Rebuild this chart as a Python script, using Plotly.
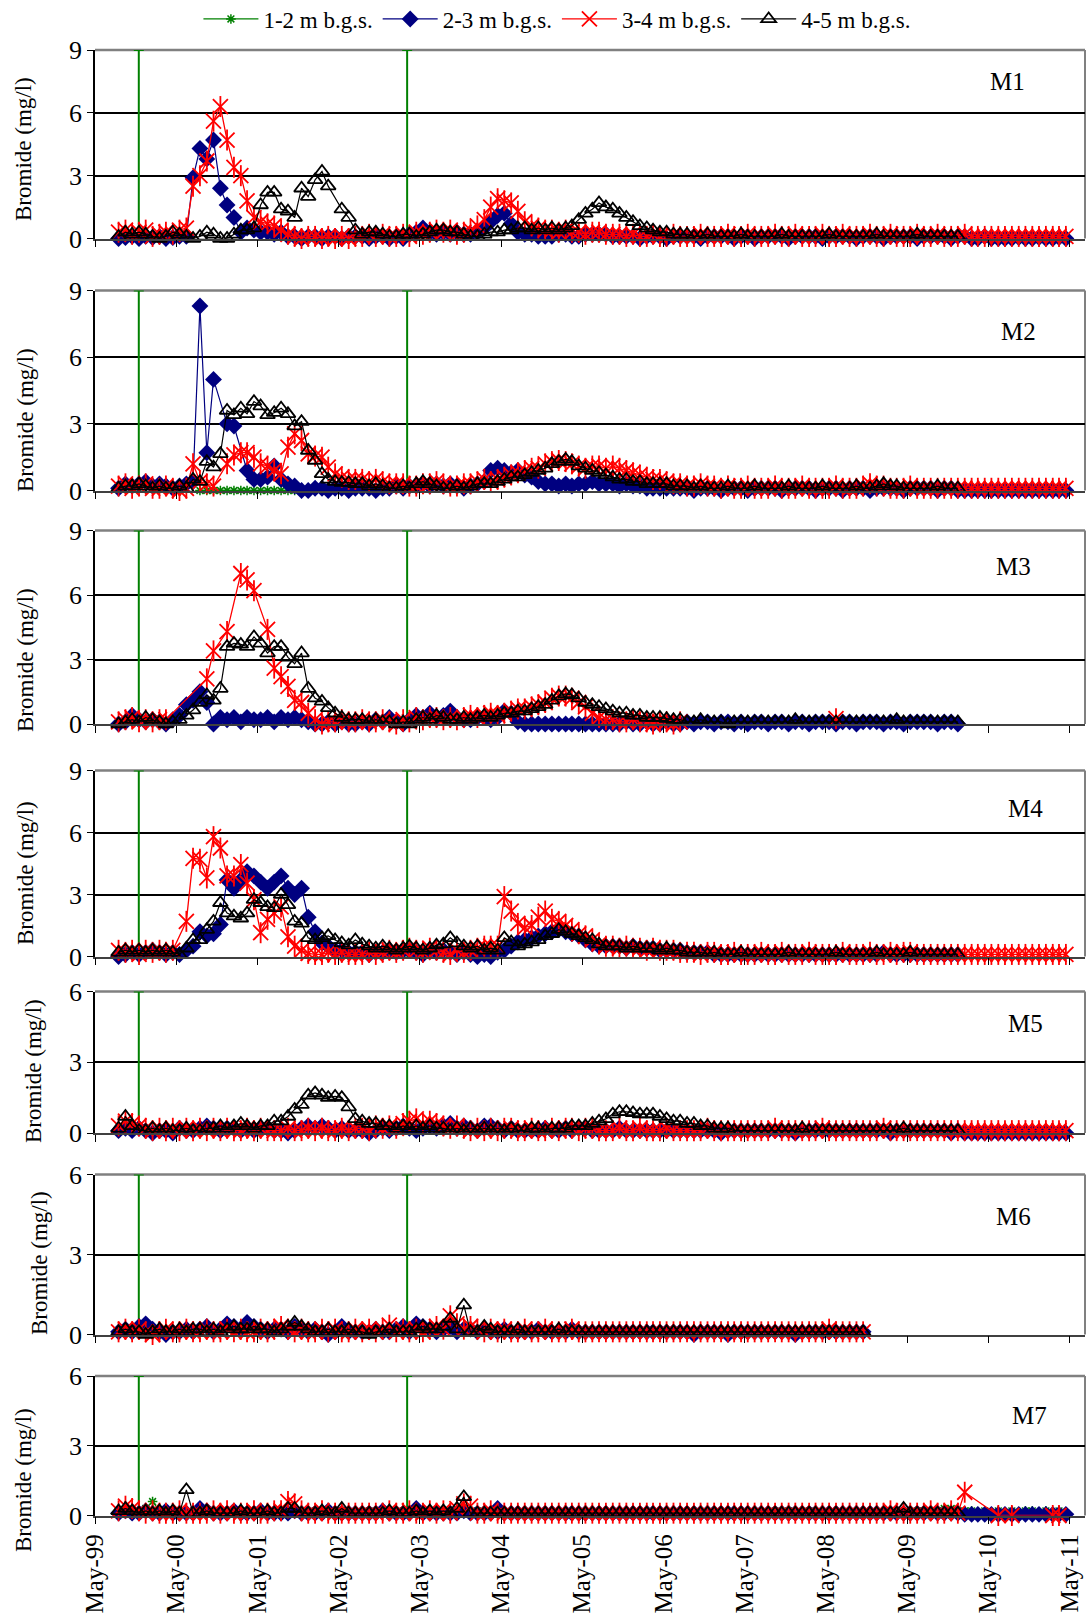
import pandas as pd
import plotly.graph_objects as go

W, H = 1092, 1620
FONT = "Liberation Serif"

# ---------------- data (monthly samples, first sample Aug-1999) ----------------
SERIES_START = "1999-08-01"
APPLICATION_DATES = ["1999-11-14", "2003-03-05"]
LEGEND_NAMES = ["1-2 m b.g.s.", "2-3 m b.g.s.", "3-4 m b.g.s.", "4-5 m b.g.s."]
PANEL_NAMES = ["M1", "M2", "M3", "M4", "M5", "M6", "M7"]
PANEL_YMAX = [9, 9, 9, 9, 6, 6, 6]

M1_NAVY = [
    0.0, 0.05, 0.1, 0.0, 0.1, 0.05, 0.1, 0.0, 0.05, 0.1, 0.1, 2.9,
    4.3, 3.8, 4.7, 2.4, 1.6, 1.0, 0.3, 0.5, 0.4, 0.3, 0.3, 0.2,
    0.3, 0.1, 0.1, 0.0, 0.1, 0.1, 0.0, 0.1, 0.1, 0.0, 0.1, 0.1,
    0.1, 0.0, 0.1, 0.1, 0.0, 0.1, 0.0, 0.2, 0.3, 0.5, 0.3, 0.2,
    0.3, 0.2, 0.3, 0.2, 0.2, 0.3, 0.5, 0.8, 1.1, 1.2, 0.7, 0.3,
    0.2, 0.2, 0.1, 0.1, 0.1, 0.2, 0.2, 0.1, 0.1, 0.2, 0.2, 0.2,
    0.2, 0.1, 0.1, 0.1, 0.1, 0.0, 0.1, 0.1, 0.1, 0.0, 0.1, 0.1,
    0.1, 0.1, 0.0, 0.1, 0.1, 0.1, 0.1, 0.0, 0.1, 0.1, 0.0, 0.1,
    0.1, 0.1, 0.1, 0.0, 0.1, 0.1, 0.1, 0.1, 0.0, 0.1, 0.1, 0.1,
    0.1, 0.0, 0.1, 0.1, 0.1, 0.0, 0.1, 0.1, 0.1, 0.1, 0.0, 0.1,
    0.1, 0.1, 0.1, 0.0, 0.1, 0.1, 0.0, 0.0, 0.1, 0.0, 0.0, 0.0,
    0.0, 0.05, 0.0, 0.0, 0.05, 0.0, 0.0, 0.05, 0.0,
]
M1_RED = [
    0.3, 0.4, 0.2, 0.3, 0.4, 0.1, 0.2, 0.3, 0.2, 0.4, 0.5, 2.5,
    3.0, 3.7, 5.6, 6.3, 4.7, 3.4, 3.0, 1.8, 1.0, 0.8, 0.7, 0.6,
    0.4, 0.2, 0.1, 0.0, 0.1, 0.1, 0.0, 0.1, 0.0, 0.1, 0.0, 0.1,
    0.1, 0.2, 0.1, 0.2, 0.1, 0.1, 0.2, 0.1, 0.3, 0.2, 0.3, 0.4,
    0.3, 0.4, 0.2, 0.3, 0.4, 0.6, 0.9, 1.5, 1.9, 1.8, 1.7, 1.3,
    0.8, 0.6, 0.5, 0.4, 0.4, 0.3, 0.4, 0.3, 0.3, 0.2, 0.3, 0.3,
    0.2, 0.2, 0.2, 0.1, 0.2, 0.1, 0.1, 0.2, 0.1, 0.1, 0.2, 0.1,
    0.1, 0.1, 0.2, 0.1, 0.1, 0.1, 0.2, 0.1, 0.1, 0.2, 0.1, 0.1,
    0.1, 0.2, 0.1, 0.1, 0.2, 0.1, 0.1, 0.1, 0.2, 0.1, 0.1, 0.2,
    0.1, 0.1, 0.1, 0.2, 0.1, 0.1, 0.2, 0.1, 0.1, 0.1, 0.2, 0.1,
    0.1, 0.2, 0.1, 0.1, 0.1, 0.2, 0.1, 0.1, 0.1, 0.1, 0.1, 0.1,
    0.1, 0.1, 0.1, 0.1, 0.1, 0.1, 0.1, 0.1, 0.1,
]
M1_BLACK = [
    0.1, 0.3, 0.2, 0.3, 0.2, 0.1, 0.0, 0.1, 0.3, 0.2, 0.1, 0.0,
    0.1, 0.3, 0.2, 0.0, 0.0, 0.2, 0.4, 0.4, 0.5, 1.6, 2.2, 2.2,
    1.4, 1.3, 1.0, 2.4, 2.0, 2.8, 3.2, 2.5, None, 1.4, 1.0, 0.4,
    0.2, 0.3, 0.3, 0.2, 0.1, 0.1, 0.2, 0.2, 0.1, 0.2, 0.3, 0.4,
    0.4, 0.3, 0.3, 0.2, 0.1, 0.1, 0.2, 0.3, 0.3, 0.4, 0.4, 0.5,
    0.5, 0.4, 0.5, 0.4, 0.5, 0.4, 0.5, 0.6, 0.9, 1.2, 1.4, 1.7,
    1.5, 1.4, 1.2, 1.0, 0.8, 0.6, 0.5, 0.4, 0.3, 0.3, 0.2, 0.2,
    0.2, 0.1, 0.1, 0.2, 0.1, 0.1, 0.1, 0.1, 0.2, 0.1, 0.1, 0.1,
    0.1, 0.1, 0.2, 0.1, 0.1, 0.1, 0.1, 0.1, 0.1, 0.2, 0.1, 0.1,
    0.1, 0.1, 0.1, 0.1, 0.2, 0.1, 0.1, 0.1, 0.1, 0.1, 0.2, 0.1,
    0.1, 0.1, 0.1, 0.1, 0.1,
]

M2_NAVY = [
    0.1, 0.3, 0.2, 0.3, 0.4, 0.2, 0.3, 0.2, 0.1, 0.2, 0.3, 0.4,
    8.3, 1.7, 5.0, None, 3.0, 2.9, None, 0.9, 0.5, 0.5, 0.6, 1.1,
    0.5, 0.3, 0.2, 0.0, 0.0, 0.1, 0.1, 0.0, 0.1, 0.1, 0.0, 0.1,
    0.1, 0.1, 0.0, 0.1, 0.1, 0.2, 0.1, 0.2, 0.2, 0.3, 0.2, 0.3,
    0.2, 0.3, 0.2, 0.1, 0.2, 0.3, 0.4, 0.9, 1.0, 0.9, 0.8, 0.9,
    0.7, 0.6, 0.4, 0.3, 0.3, 0.2, 0.3, 0.2, 0.3, 0.3, 0.4, 0.3,
    0.3, 0.3, 0.2, 0.3, 0.2, 0.2, 0.1, 0.1, 0.1, 0.1, 0.1, 0.1,
    0.1, 0.0, 0.1, 0.1, 0.1, 0.0, 0.1, 0.1, 0.1, 0.0, 0.1, 0.1,
    0.1, 0.1, 0.0, 0.1, 0.1, 0.1, 0.1, 0.0, 0.1, 0.1, 0.1, 0.0,
    0.1, 0.1, 0.1, 0.0, 0.1, 0.1, 0.1, 0.1, 0.0, 0.1, 0.1, 0.1,
    0.1, 0.0, 0.1, 0.1, 0.0, 0.0, 0.0, 0.0, 0.0, 0.0, 0.0, 0.0,
    0.0, 0.0, 0.0, 0.0, 0.0, 0.0, 0.0, 0.0, 0.0,
]
M2_RED = [
    0.2, 0.3, 0.1, 0.2, 0.3, 0.1, 0.1, 0.2, 0.1, 0.0, 0.1, 1.2,
    0.4, 0.3, 0.2, None, 1.2, 1.6, 1.7, 1.7, 1.5, 1.2, 1.1, 0.9,
    0.75, 1.95, 2.55, 2.25, 1.65, 1.55, 1.5, 1.05, 0.75, 0.6, 0.5, 0.5,
    0.5, 0.4, 0.5, 0.4, 0.3, 0.3, 0.3, 0.2, 0.2, 0.3, 0.3, 0.4,
    0.3, 0.2, 0.2, 0.3, 0.3, 0.4, 0.5, 0.4, 0.5, 0.6, 0.7, 0.8,
    0.9, 1.0, 1.0, 1.2, 1.3, 1.35, 1.3, 1.2, 1.1, 1.0, 1.1, 1.1,
    1.0, 1.1, 1.0, 0.9, 0.8, 0.7, 0.6, 0.5, 0.5, 0.4, 0.3, 0.3,
    0.2, 0.2, 0.3, 0.2, 0.2, 0.1, 0.2, 0.1, 0.1, 0.2, 0.1, 0.1,
    0.1, 0.2, 0.1, 0.1, 0.1, 0.2, 0.1, 0.1, 0.1, 0.1, 0.2, 0.1,
    0.1, 0.1, 0.2, 0.3, 0.2, 0.2, 0.1, 0.1, 0.1, 0.2, 0.1, 0.1,
    0.1, 0.1, 0.1, 0.1, 0.1, 0.1, 0.1, 0.1, 0.1, 0.1, 0.1, 0.1,
    0.1, 0.1, 0.1, 0.1, 0.1, 0.1, 0.1, 0.1, 0.1,
]
M2_BLACK = [
    0.1, 0.2, 0.2, 0.3, 0.2, 0.1, 0.2, 0.1, 0.1, 0.2, 0.1, 0.5,
    0.4, 1.3, 1.05, 1.65, 3.6, 3.4, 3.7, 3.45, 4.0, 3.8, 3.4, 3.5,
    3.7, 3.45, 2.9, 3.1, 1.8, 1.35, 0.75, 0.5, 0.4, 0.35, 0.35, 0.3,
    0.3, 0.2, 0.3, 0.2, 0.1, 0.1, 0.2, 0.1, 0.3, 0.4, 0.3, 0.2,
    0.1, 0.1, 0.2, 0.1, 0.2, 0.3, 0.3, 0.3, 0.4, 0.5, 0.6, 0.6,
    0.7, 0.8, 0.9, 1.0, 1.2, 1.3, 1.4, 1.3, 1.1, 1.0, 0.9, 0.8,
    0.7, 0.6, 0.5, 0.5, 0.4, 0.4, 0.3, 0.3, 0.3, 0.3, 0.2, 0.2,
    0.2, 0.1, 0.2, 0.1, 0.1, 0.1, 0.2, 0.1, 0.1, 0.1, 0.2, 0.1,
    0.1, 0.1, 0.1, 0.2, 0.1, 0.1, 0.1, 0.1, 0.2, 0.1, 0.1, 0.1,
    0.1, 0.2, 0.1, 0.1, 0.2, 0.3, 0.2, 0.2, 0.1, 0.1, 0.1, 0.1,
    0.1, 0.2, 0.1, 0.1, 0.1,
]
M2_GREEN_START = "2000-08-01"
M2_GREEN = [0.0, 0.0, 0.0, 0.0, 0.0, 0.0, 0.0, 0.0, 0.0, 0.0, 0.0, 0.0, 0.0, 0.0, 0.0]

M3_NAVY = [
    0.0, 0.1, 0.4, 0.2, 0.1, 0.2, 0.1, 0.0, 0.2, 0.4, 0.9, 1.1,
    1.5, 1.0, 0.0, 0.3, 0.2, 0.3, 0.1, 0.3, 0.2, 0.2, 0.3, 0.1,
    0.3, 0.2, 0.3, 0.2, 0.1, 0.0, 0.0, 0.1, 0.0, 0.1, 0.0, 0.0,
    0.1, 0.0, 0.2, 0.1, 0.3, 0.1, 0.0, 0.2, 0.4, 0.3, 0.5, 0.3,
    0.4, 0.6, 0.3, 0.2, 0.2, 0.3, 0.3, 0.2, 0.3, 0.6, 0.5, 0.1,
    0.0, 0.0, 0.0, 0.0, 0.0, 0.0, 0.0, 0.0, 0.0, 0.0, 0.0, 0.0,
    0.0, 0.0, 0.0, 0.1, 0.0, 0.0, 0.1, 0.0, 0.0, 0.1, 0.0, 0.0,
    0.1, 0.0, 0.1, 0.1, 0.0, 0.1, 0.1, 0.0, 0.1, 0.0, 0.1, 0.1,
    0.0, 0.1, 0.1, 0.0, 0.1, 0.1, 0.0, 0.1, 0.1, 0.1, 0.0, 0.1,
    0.1, 0.0, 0.1, 0.1, 0.1, 0.0, 0.1, 0.1, 0.0, 0.1, 0.1, 0.1,
    0.1, 0.0, 0.1, 0.1, 0.0,
]
M3_RED = [
    0.1, 0.2, 0.3, 0.1, 0.2, 0.1, 0.2, 0.2, None, None, None, None,
    None, 2.1, 3.4, None, 4.3, None, 7.0, 6.7, 6.2, None, 4.4, 2.6,
    2.2, 1.75, 1.1, 1.0, 0.5, 0.2, 0.0, 0.1, 0.1, 0.2, 0.1, 0.1,
    0.2, 0.1, 0.1, 0.2, 0.1, 0.0, 0.2, 0.1, 0.3, 0.2, 0.3, 0.3,
    0.2, 0.3, 0.2, 0.3, 0.4, 0.3, 0.4, 0.5, 0.4, 0.5, 0.6, 0.7,
    0.7, 0.8, 0.9, 1.0, 1.2, 1.3, 1.3, 1.2, 1.0, 0.8, 0.5, 0.3,
    0.2, 0.2, 0.1, 0.1, 0.2, 0.1, 0.1, 0.0, 0.1, 0.1, 0.0, 0.1,
]
M3_RED_EXTRA_DATES = ["2008-06-15"]
M3_RED_EXTRA = [0.25]
M3_BLACK = [
    0.0, 0.1, 0.2, 0.1, 0.3, 0.2, 0.1, 0.0, 0.1, 0.2, 0.4, 0.65,
    1.0, 1.35, 1.1, 1.65, 3.6, 3.75, 3.7, 3.6, 4.05, 3.75, 3.3, 3.6,
    3.6, 3.1, 2.8, 3.3, 1.65, 1.2, 1.05, 0.75, 0.5, 0.3, 0.2, 0.2,
    0.2, 0.1, 0.2, 0.1, 0.1, 0.0, 0.1, 0.0, 0.2, 0.3, 0.2, 0.4,
    0.3, 0.2, 0.2, 0.3, 0.2, 0.3, 0.4, 0.3, 0.4, 0.5, 0.5, 0.6,
    0.6, 0.7, 0.8, 0.9, 1.1, 1.3, 1.4, 1.35, 1.2, 1.0, 0.9, 0.8,
    0.7, 0.6, 0.5, 0.5, 0.4, 0.4, 0.3, 0.3, 0.3, 0.25, 0.2, 0.2,
    0.1, 0.1, 0.2, 0.1, 0.1, 0.1, 0.0, 0.1, 0.1, 0.1, 0.1, 0.1,
    0.1, 0.1, 0.1, 0.1, 0.2, 0.1, 0.1, 0.1, 0.1, 0.1, 0.1, 0.1,
    0.1, 0.1, 0.1, 0.1, 0.1, 0.1, 0.1, 0.2, 0.1, 0.1, 0.1, 0.1,
    0.1, 0.1, 0.1, 0.1, 0.1,
]

M4_NAVY = [
    0.0, 0.1, 0.2, 0.1, 0.2, 0.3, 0.2, 0.1, 0.2, 0.1, 0.3, 0.5,
    1.2, 1.0, 1.1, 1.55, 3.7, 3.3, 3.7, 4.1, 3.9, 3.6, 3.3, 3.6,
    3.9, 3.3, 3.0, 3.3, 1.9, 1.2, 0.65, 0.5, 0.3, 0.3, 0.2, 0.2,
    0.2, 0.1, 0.2, 0.2, 0.3, 0.2, 0.3, 0.3, 0.2, 0.1, 0.3, 0.2,
    0.3, 0.2, 0.1, 0.2, 0.1, 0.0, 0.1, 0.0, 0.2, 0.3, 0.5, 0.7,
    0.8, 0.9, 1.0, 1.1, 1.2, 1.3, 1.2, 1.1, 1.0, 0.8, 0.6, 0.5,
    0.5, 0.5, 0.5, 0.4, 0.5, 0.4, 0.4, 0.4, 0.3, 0.3, 0.3, 0.3,
    0.2, 0.2, 0.2, 0.2, 0.1, 0.1, 0.1, 0.1, 0.1, 0.1, 0.1, 0.1,
    0.1, 0.1, 0.1, 0.1, 0.1, 0.1, 0.1, 0.1, 0.1, 0.1, 0.1, 0.1,
    0.1, 0.1, 0.1, 0.1, 0.1, 0.2, 0.1, 0.1, 0.1, 0.1, 0.1, 0.1,
    0.1, 0.1, 0.1, 0.1, 0.1,
]
M4_RED = [
    0.3, 0.2, 0.3, 0.1, 0.3, 0.2, 0.3, 0.2, 0.3, None, 1.7, 4.75,
    4.7, 3.8, 5.8, 5.25, 3.9, 3.9, 4.45, 3.55, 2.75, 1.15, 1.8, 2.1,
    2.4, 0.95, 0.5, 0.3, 0.15, 0.1, 0.1, 0.2, 0.1, 0.2, 0.1, 0.1,
    0.1, 0.2, 0.1, 0.2, 0.3, 0.2, 0.3, 0.4, 0.3, 0.2, 0.4, 0.3,
    0.2, 0.1, 0.3, 0.2, 0.3, 0.4, 0.5, 0.5, 0.5, 2.9, 2.2, 1.6,
    1.4, 1.5, 1.9, 2.2, 1.8, 1.7, 1.5, 1.3, 1.1, 1.0, 0.8, 0.6,
    0.5, 0.5, 0.4, 0.5, 0.4, 0.4, 0.3, 0.4, 0.3, 0.3, 0.3, 0.2,
    0.2, 0.2, 0.1, 0.2, 0.2, 0.1, 0.1, 0.2, 0.1, 0.1, 0.1, 0.2,
    0.1, 0.1, 0.2, 0.1, 0.1, 0.1, 0.2, 0.1, 0.1, 0.1, 0.1, 0.2,
    0.1, 0.1, 0.1, 0.2, 0.1, 0.1, 0.2, 0.1, 0.2, 0.2, 0.1, 0.1,
    0.1, 0.1, 0.1, 0.1, 0.1, 0.1, 0.1, 0.1, 0.1, 0.1, 0.1, 0.1,
    0.1, 0.1, 0.1, 0.1, 0.1, 0.1, 0.1, 0.1, 0.1,
]
M4_BLACK = [
    0.2, 0.3, 0.2, 0.3, 0.2, 0.3, 0.2, 0.3, 0.2, 0.1, 0.4, 0.8,
    0.8, 1.3, 1.7, 2.6, 2.1, 1.95, 1.85, 2.1, 2.75, 2.6, 2.4, 2.35,
    3.0, 2.5, 1.7, 1.6, 0.9, 0.8, 0.9, 1.0, 0.8, 0.65, 0.55, 0.8,
    0.6, 0.5, 0.4, 0.5, 0.4, 0.3, 0.4, 0.5, 0.4, 0.3, 0.4, 0.55,
    0.6, 0.9, 0.65, 0.5, 0.4, 0.5, 0.3, 0.4, 0.3, 0.9, 0.7, 0.5,
    0.6, 0.7, 0.8, 1.0, 1.1, 1.3, 1.2, 1.1, 1.0, 0.9, 0.8, 0.6,
    0.5, 0.5, 0.5, 0.4, 0.5, 0.4, 0.4, 0.4, 0.3, 0.4, 0.3, 0.3,
    0.2, 0.2, 0.2, 0.1, 0.2, 0.1, 0.1, 0.1, 0.2, 0.1, 0.1, 0.1,
    0.1, 0.1, 0.1, 0.2, 0.1, 0.1, 0.1, 0.1, 0.1, 0.1, 0.2, 0.1,
    0.1, 0.1, 0.1, 0.1, 0.2, 0.1, 0.1, 0.1, 0.1, 0.2, 0.1, 0.1,
    0.1, 0.1, 0.1, 0.1, 0.1,
]

M5_NAVY = [
    0.1, 0.2, 0.1, 0.2, 0.1, 0.0, 0.1, 0.1, 0.0, 0.2, 0.1, 0.1,
    0.2, 0.3, 0.2, 0.1, 0.2, 0.2, 0.1, 0.2, 0.1, 0.2, 0.2, 0.1,
    0.1, 0.0, 0.1, 0.2, 0.3, 0.2, 0.3, 0.2, 0.1, 0.2, 0.1, 0.1,
    0.1, 0.0, 0.1, 0.2, 0.1, 0.2, 0.3, 0.2, 0.1, 0.2, 0.3, 0.2,
    0.3, 0.4, 0.2, 0.3, 0.2, 0.1, 0.3, 0.3, 0.2, 0.1, 0.2, 0.1,
    0.1, 0.1, 0.1, 0.2, 0.1, 0.1, 0.2, 0.1, 0.2, 0.2, 0.1, 0.1,
    0.1, 0.1, 0.2, 0.1, 0.1, 0.1, 0.1, 0.1, 0.1, 0.1, 0.1, 0.1,
    0.1, 0.1, 0.1, 0.1, 0.1, 0.0, 0.1, 0.1, 0.1, 0.1, 0.1, 0.1,
    0.1, 0.1, 0.1, 0.1, 0.0, 0.1, 0.1, 0.1, 0.1, 0.1, 0.1, 0.1,
    0.1, 0.1, 0.1, 0.1, 0.1, 0.1, 0.0, 0.1, 0.1, 0.1, 0.1, 0.1,
    0.1, 0.1, 0.1, 0.0, 0.1, 0.0, 0.0, 0.0, 0.0, 0.0, 0.0, 0.0,
    0.0, 0.0, 0.0, 0.0, 0.0, 0.0, 0.0, 0.0, 0.0,
]
M5_RED = [
    0.3, 0.5, 0.4, 0.3, 0.2, 0.1, 0.2, 0.1, 0.2, 0.1, 0.2, 0.1,
    0.2, 0.1, 0.2, 0.1, 0.2, 0.1, 0.1, 0.2, 0.1, 0.2, 0.1, 0.1,
    0.1, 0.2, 0.1, 0.1, 0.2, 0.1, 0.2, 0.1, 0.1, 0.2, 0.1, 0.2,
    0.2, 0.1, 0.3, 0.2, 0.3, 0.2, 0.4, 0.5, 0.6, 0.4, 0.5, 0.4,
    0.3, 0.2, 0.3, 0.2, 0.1, 0.2, 0.1, 0.2, 0.1, 0.2, 0.2, 0.1,
    0.1, 0.2, 0.1, 0.1, 0.2, 0.1, 0.2, 0.2, 0.1, 0.2, 0.2, 0.1,
    0.1, 0.1, 0.2, 0.1, 0.1, 0.2, 0.1, 0.1, 0.1, 0.2, 0.1, 0.1,
    0.1, 0.1, 0.1, 0.2, 0.1, 0.1, 0.1, 0.1, 0.1, 0.1, 0.1, 0.1,
    0.1, 0.2, 0.1, 0.1, 0.1, 0.1, 0.1, 0.1, 0.2, 0.1, 0.1, 0.1,
    0.1, 0.1, 0.1, 0.1, 0.1, 0.2, 0.1, 0.1, 0.1, 0.1, 0.1, 0.1,
    0.1, 0.1, 0.1, 0.1, 0.1, 0.1, 0.1, 0.1, 0.1, 0.1, 0.1, 0.1,
    0.1, 0.1, 0.1, 0.1, 0.1, 0.1, 0.1, 0.1, 0.1,
]
M5_BLACK = [
    0.2, 0.7, 0.3, 0.1, 0.1, 0.2, 0.1, 0.2, 0.1, 0.1, 0.2, 0.1,
    0.1, 0.2, 0.2, 0.3, 0.2, 0.3, 0.4, 0.3, 0.2, 0.3, 0.3, 0.5,
    0.5, 0.7, 1.0, 1.2, 1.6, 1.7, 1.6, 1.5, 1.55, 1.5, 1.1, 0.6,
    0.5, 0.4, 0.4, 0.3, 0.3, 0.2, 0.3, 0.2, 0.3, 0.2, 0.3, 0.2,
    0.2, 0.1, 0.2, 0.1, 0.2, 0.1, 0.2, 0.1, 0.2, 0.1, 0.2, 0.1,
    0.1, 0.2, 0.2, 0.1, 0.2, 0.2, 0.2, 0.3, 0.3, 0.3, 0.4, 0.5,
    0.6, 0.8, 0.9, 0.9, 0.85, 0.8, 0.8, 0.8, 0.7, 0.6, 0.5, 0.5,
    0.4, 0.4, 0.3, 0.3, 0.2, 0.2, 0.2, 0.1, 0.1, 0.1, 0.1, 0.1,
    0.1, 0.1, 0.1, 0.1, 0.1, 0.2, 0.1, 0.1, 0.1, 0.1, 0.1, 0.1,
    0.1, 0.1, 0.1, 0.1, 0.1, 0.1, 0.1, 0.1, 0.2, 0.1, 0.1, 0.1,
    0.1, 0.1, 0.1, 0.1, 0.1,
]

M6_NAVY = [
    0.1, 0.2, 0.1, 0.3, 0.4, 0.2, 0.1, 0.0, 0.1, 0.1, 0.2, 0.1,
    0.2, 0.3, 0.1, 0.2, 0.4, 0.3, 0.2, 0.45, 0.3, 0.2, 0.1, 0.2,
    0.2, 0.1, 0.3, 0.2, 0.1, 0.2, 0.1, 0.0, 0.1, 0.3, 0.1, 0.1,
    0.1, 0.1, 0.2, 0.1, 0.1, 0.2, 0.3, 0.1, 0.4, 0.3, 0.2, 0.1,
    0.2, 0.3, 0.1, 0.2, 0.2, 0.1, 0.2, 0.1, 0.1, 0.2, 0.1, 0.1,
    0.1, 0.1, 0.2, 0.1, 0.1, 0.1, 0.1, 0.2, 0.1, 0.1, 0.1, 0.1,
    0.1, 0.1, 0.1, 0.1, 0.1, 0.1, 0.1, 0.1, 0.1, 0.1, 0.1, 0.1,
    0.1, 0.0, 0.1, 0.1, 0.1, 0.1, 0.0, 0.1, 0.1, 0.1, 0.1, 0.1,
    0.1, 0.1, 0.1, 0.1, 0.0, 0.1, 0.1, 0.1, 0.1, 0.1, 0.1, 0.1,
    0.1, 0.1, 0.1,
]
M6_RED = [
    0.1, 0.2, 0.1, 0.2, 0.1, 0.0, 0.1, 0.2, 0.1, 0.1, 0.2, 0.1,
    0.1, 0.2, 0.1, 0.1, 0.2, 0.1, 0.2, 0.1, 0.1, 0.2, 0.1, 0.2,
    0.3, 0.2, 0.1, 0.2, 0.1, 0.1, 0.2, 0.1, 0.2, 0.1, 0.1, 0.2,
    0.1, 0.2, 0.1, 0.2, 0.35, 0.1, 0.2, 0.1, 0.2, 0.1, 0.2, 0.3,
    0.2, 0.7, 0.4, 0.2, 0.3, 0.2, 0.1, 0.2, 0.1, 0.2, 0.1, 0.1,
    0.2, 0.1, 0.1, 0.2, 0.1, 0.1, 0.1, 0.2, 0.1, 0.1, 0.1, 0.1,
    0.1, 0.1, 0.1, 0.1, 0.1, 0.1, 0.1, 0.1, 0.1, 0.1, 0.1, 0.1,
    0.1, 0.1, 0.1, 0.1, 0.1, 0.1, 0.1, 0.1, 0.1, 0.1, 0.1, 0.1,
    0.1, 0.1, 0.1, 0.1, 0.1, 0.1, 0.1, 0.1, 0.1, 0.2, 0.1, 0.1,
    0.1, 0.1, 0.1,
]
M6_BLACK = [
    0.1, 0.2, 0.1, 0.1, 0.0, 0.1, 0.2, 0.1, 0.1, 0.2, 0.1, 0.2,
    0.2, 0.1, 0.2, 0.1, 0.2, 0.3, 0.2, 0.2, 0.3, 0.2, 0.2, 0.1,
    0.2, 0.3, 0.45, 0.3, 0.2, 0.1, 0.1, 0.2, 0.1, 0.1, 0.2, 0.1,
    0.1, 0.0, 0.1, 0.1, 0.2, 0.1, 0.1, 0.1, 0.2, 0.3, 0.2, 0.2,
    0.3, 0.6, 0.2, 1.1, 0.1, 0.1, 0.3, 0.2, 0.1, 0.1, 0.1, 0.2,
    0.1, 0.1, 0.1, 0.1, 0.1, 0.2, 0.1, 0.1, 0.1, 0.1, 0.1, 0.1,
    0.1, 0.1, 0.1, 0.1, 0.1, 0.1, 0.1, 0.1, 0.1, 0.1, 0.1, 0.1,
    0.1, 0.1, 0.1, 0.1, 0.1, 0.1, 0.1, 0.1, 0.1, 0.1, 0.1, 0.1,
    0.1, 0.1, 0.1, 0.1, 0.1, 0.1, 0.1, 0.1, 0.1, 0.1, 0.1, 0.1,
    0.1, 0.1, 0.1,
]

M7_NAVY = [
    0.1, 0.2, 0.1, 0.1, 0.2, 0.1, 0.1, 0.2, 0.1, 0.1, 0.1, 0.1,
    0.3, 0.2, 0.1, 0.1, 0.1, 0.2, 0.1, 0.1, 0.1, 0.2, 0.1, 0.1,
    0.1, 0.1, 0.2, 0.1, 0.1, 0.1, 0.1, 0.2, 0.1, 0.1, 0.1, 0.1,
    0.1, 0.1, 0.1, 0.2, 0.1, 0.1, 0.1, 0.1, 0.3, 0.1, 0.1, 0.1,
    0.1, 0.1, 0.1, 0.2, 0.1, 0.1, 0.1, 0.1, 0.3, 0.1, 0.1, 0.1,
    0.1, 0.1, 0.1, 0.1, 0.1, 0.1, 0.1, 0.1, 0.1, 0.1, 0.1, 0.1,
    0.1, 0.1, 0.1, 0.1, 0.1, 0.1, 0.1, 0.1, 0.1, 0.1, 0.1, 0.1,
    0.1, 0.1, 0.1, 0.1, 0.1, 0.1, 0.1, 0.1, 0.1, 0.1, 0.1, 0.1,
    0.1, 0.1, 0.1, 0.1, 0.1, 0.1, 0.1, 0.1, 0.1, 0.1, 0.1, 0.1,
    0.1, 0.1, 0.1, 0.1, 0.1, 0.1, 0.1, 0.1, 0.1, 0.1, 0.1, 0.1,
    0.1, 0.1, 0.1, 0.1, 0.1, 0.05, 0.05, 0.05, 0.05, 0.05, 0.05, 0.05,
    0.05, 0.05, 0.05, 0.05, 0.05, 0.05, 0.05, 0.05, 0.05,
]
M7_RED = [
    0.2, 0.4, 0.3, 0.2, 0.1, 0.2, 0.1, 0.1, 0.1, 0.2, 0.1, 0.1,
    0.1, 0.1, 0.2, 0.1, 0.2, 0.1, 0.1, 0.1, 0.2, 0.1, 0.1, 0.2,
    0.2, 0.6, 0.5, 0.2, 0.1, 0.1, 0.2, 0.1, 0.1, 0.1, 0.1, 0.1,
    0.1, 0.1, 0.1, 0.1, 0.2, 0.1, 0.1, 0.2, 0.1, 0.1, 0.2, 0.1,
    0.2, 0.1, 0.3, 0.5, 0.4, 0.1, 0.1, 0.2, 0.1, 0.1, 0.1, 0.1,
    0.1, 0.1, 0.1, 0.1, 0.1, 0.1, 0.1, 0.1, 0.1, 0.1, 0.1, 0.1,
    0.1, 0.1, 0.1, 0.1, 0.1, 0.1, 0.1, 0.1, 0.1, 0.1, 0.1, 0.1,
    0.1, 0.1, 0.1, 0.1, 0.1, 0.1, 0.1, 0.1, 0.1, 0.1, 0.1, 0.1,
    0.1, 0.1, 0.1, 0.1, 0.1, 0.1, 0.1, 0.1, 0.1, 0.1, 0.1, 0.1,
    0.1, 0.1, 0.1, 0.1, 0.1, 0.1, 0.2, 0.1, 0.1, 0.1, 0.1, 0.1,
    0.2, 0.1, 0.1, 0.2, 0.1, 1.0, None, None, None, None, 0.0, None,
    0.0, None, None, None, None, None, 0.0, 0.0, None,
]
M7_BLACK = [
    0.2, 0.3, 0.2, 0.1, 0.2, 0.1, 0.2, 0.1, 0.2, 0.1, 1.1, 0.1,
    0.1, 0.2, 0.1, 0.1, 0.1, 0.1, 0.2, 0.1, 0.1, 0.1, 0.2, 0.1,
    0.1, 0.3, 0.3, 0.1, 0.1, 0.1, 0.2, 0.1, 0.1, 0.3, 0.1, 0.1,
    0.1, 0.1, 0.1, 0.1, 0.2, 0.1, 0.1, 0.1, 0.2, 0.1, 0.2, 0.1,
    0.2, 0.1, 0.3, 0.8, 0.1, 0.1, 0.1, 0.1, 0.1, 0.1, 0.1, 0.1,
    0.1, 0.1, 0.1, 0.1, 0.1, 0.1, 0.1, 0.1, 0.1, 0.1, 0.1, 0.1,
    0.1, 0.1, 0.1, 0.1, 0.1, 0.1, 0.1, 0.1, 0.1, 0.1, 0.1, 0.1,
    0.1, 0.1, 0.1, 0.1, 0.1, 0.1, 0.1, 0.1, 0.1, 0.1, 0.1, 0.1,
    0.1, 0.1, 0.1, 0.1, 0.1, 0.1, 0.1, 0.1, 0.1, 0.1, 0.1, 0.1,
    0.1, 0.1, 0.1, 0.1, 0.1, 0.1, 0.1, 0.1, 0.3, 0.1, 0.1, 0.1,
    0.1, 0.1, 0.1, 0.1, 0.1,
]
M7_GREEN = [
    0.1, 0.2, 0.1, 0.2, 0.3, 0.6, 0.2, 0.1, 0.1, 0.2, 0.1, 0.1,
    0.1, 0.2, 0.1, 0.1, 0.2, 0.1, 0.1, 0.2, 0.1, 0.1, 0.2, 0.1,
    0.1, 0.1, 0.2, 0.1, 0.1, 0.2, 0.1, 0.1, 0.1, 0.2, 0.1, 0.1,
    0.1, 0.2, 0.1, 0.1, 0.1, 0.1, 0.2, 0.1, 0.1, 0.1, 0.2, 0.1,
    0.1, 0.1, 0.1, 0.1, 0.1, 0.2, 0.1, 0.1, 0.1, 0.1, 0.1, 0.1,
    0.1, 0.1, 0.1, 0.1, 0.1, 0.1, 0.1, 0.1, 0.1, 0.1, 0.1, 0.1,
    0.1, 0.1, 0.1, 0.1, 0.1, 0.1, 0.1, 0.1, 0.1, 0.1, 0.1, 0.1,
    0.1, 0.1, 0.1, 0.1, 0.1, 0.1, 0.1, 0.1, 0.1, 0.1, 0.1, 0.1,
    0.1, 0.2, 0.1, 0.2, 0.1, 0.1, 0.2, 0.1, 0.1, 0.1, 0.1, 0.1,
    0.1, 0.1, 0.1, 0.1, 0.1, 0.1, 0.1, 0.1, 0.1, 0.1, 0.2, 0.2,
    0.2, 0.2, 0.3, 0.3, 0.2, 0.2, 0.2, 0.1, 0.2, 0.1, 0.2, 0.1,
    0.2, 0.1, 0.2, 0.2, 0.1, 0.2, 0.1, 0.2, 0.1,
]

PANEL_NAVY = [M1_NAVY, M2_NAVY, M3_NAVY, M4_NAVY, M5_NAVY, M6_NAVY, M7_NAVY]
PANEL_RED = [M1_RED, M2_RED, M3_RED, M4_RED, M5_RED, M6_RED, M7_RED]
PANEL_BLACK = [M1_BLACK, M2_BLACK, M3_BLACK, M4_BLACK, M5_BLACK, M6_BLACK, M7_BLACK]

# ---------------- layout geometry (pixels) ----------------
X_LEFT, X_RIGHT = 95, 1085
PANEL_TOP = [50, 290.5, 530.5, 770.5, 991.5, 1174.5, 1376]
PANEL_ZERO = [238.5, 490.5, 724, 956.5, 1133, 1334.5, 1515.5]
LABEL_POS = [(1007, 81), (1018, 331), (1013, 566), (1025, 808), (1025, 1023), (1013, 1216), (1029, 1415)]
TITLE_X = [23, 25, 25, 25, 33, 39, 23]
TITLE_Y = [149, 420, 660, 873, 1071, 1263, 1480]

NAVY, RED, GREEN = "#000080", "#FF0000", "#008000"


def monthly(n, start):
    return pd.date_range(start, periods=n, freq="MS") + pd.Timedelta(days=14)


def px_x(v):
    return v / W


def px_y(v):
    return 1 - v / H


fig = go.Figure()
shapes, annotations = [], []
layout_axes = {}

for k in range(7):
    sfx = "" if k == 0 else str(k + 1)
    xa, ya = "x" + sfx, "y" + sfx
    ymax = PANEL_YMAX[k]
    first = k == 0

    # green vertical markers (application dates, off-scale values)
    fig.add_trace(go.Scatter(
        x=APPLICATION_DATES, y=[0, 0], mode="markers",
        marker=dict(size=1, color=GREEN),
        error_y=dict(type="data", symmetric=False, array=[ymax, ymax], arrayminus=[0, 0],
                     color=GREEN, thickness=2, width=5),
        showlegend=False, hoverinfo="skip", xaxis=xa, yaxis=ya, cliponaxis=False))

    green_vals, green_start = None, None
    if k == 1:
        green_vals, green_start = M2_GREEN, M2_GREEN_START
    if k == 6:
        green_vals, green_start = M7_GREEN, SERIES_START
    if green_vals is not None:
        fig.add_trace(go.Scatter(
            x=monthly(len(green_vals), green_start), y=green_vals, mode="lines+markers",
            name=LEGEND_NAMES[0], legendrank=1, showlegend=(k == 1),
            line=dict(color=GREEN, width=1.2),
            marker=dict(symbol="asterisk-open", size=8, color=GREEN, line=dict(width=1.5, color=GREEN)),
            xaxis=xa, yaxis=ya, cliponaxis=False, connectgaps=True))

    nv = PANEL_NAVY[k]
    fig.add_trace(go.Scatter(
        x=monthly(len(nv), SERIES_START), y=nv, mode="lines+markers",
        name=LEGEND_NAMES[1], legendrank=2, showlegend=first,
        line=dict(color=NAVY, width=1.2),
        marker=dict(symbol="diamond", size=13, color=NAVY),
        xaxis=xa, yaxis=ya, cliponaxis=False, connectgaps=True))

    rv = PANEL_RED[k]
    rdates = monthly(len(rv), SERIES_START)
    fig.add_trace(go.Scatter(
        x=rdates, y=rv, mode="lines+markers",
        name=LEGEND_NAMES[2], legendrank=3, showlegend=first,
        line=dict(color=RED, width=1.3),
        marker=dict(symbol="x-thin-open", size=15, color=RED, line=dict(width=1.8, color=RED)),
        xaxis=xa, yaxis=ya, cliponaxis=False, connectgaps=True))
    fig.add_trace(go.Scatter(
        x=rdates, y=rv, mode="markers", showlegend=False, hoverinfo="skip",
        marker=dict(symbol="line-ns-open", size=15, color=RED, line=dict(width=1.8, color=RED)),
        xaxis=xa, yaxis=ya, cliponaxis=False))
    if k == 2:
        for sym in ["x-thin-open", "line-ns-open"]:
            fig.add_trace(go.Scatter(
                x=M3_RED_EXTRA_DATES, y=M3_RED_EXTRA, mode="markers", showlegend=False,
                marker=dict(symbol=sym, size=15, color=RED, line=dict(width=1.8, color=RED)),
                xaxis=xa, yaxis=ya, cliponaxis=False))

    bv = PANEL_BLACK[k]
    fig.add_trace(go.Scatter(
        x=monthly(len(bv), SERIES_START), y=bv, mode="lines+markers",
        name=LEGEND_NAMES[3], legendrank=4, showlegend=first,
        line=dict(color="black", width=1.2),
        marker=dict(symbol="triangle-up-open", size=13, color="black", line=dict(width=1.8, color="black")),
        xaxis=xa, yaxis=ya, cliponaxis=False, connectgaps=True))

    y0, y1 = px_y(PANEL_ZERO[k]), px_y(PANEL_TOP[k])
    bottom = k == 6
    layout_axes["xaxis" + sfx] = dict(
        domain=[px_x(X_LEFT), px_x(X_RIGHT)], anchor=ya, automargin=False,
        type="date", range=["1999-05-01", "2011-07-10"],
        tick0="1999-05-01", dtick="M12", tickformat="%b-%y",
        ticks="outside", ticklen=7, tickcolor="black", tickwidth=1,
        showticklabels=bottom, tickangle=-90,
        tickfont=dict(family=FONT, size=25, color="black"),
        showgrid=False, zeroline=False,
        showline=True, linecolor="#404040", linewidth=1.5)
    layout_axes["yaxis" + sfx] = dict(
        domain=[y0, y1], anchor=xa, range=[0, ymax], automargin=False,
        tickvals=list(range(0, ymax + 1, 3)),
        ticks="outside", ticklen=6, tickcolor="black",
        tickfont=dict(family=FONT, size=26, color="black"),
        showgrid=True, gridcolor="black", gridwidth=1.5, zeroline=False,
        showline=True, linecolor="black", linewidth=1.5)

    # gray top and right border of plot area
    shapes.append(dict(type="line", xref="paper", yref="paper", layer="between",
                       x0=px_x(X_LEFT), x1=px_x(X_RIGHT), y0=y1, y1=y1,
                       line=dict(color="#808080", width=2.5)))
    shapes.append(dict(type="line", xref="paper", yref="paper", layer="between",
                       x0=px_x(X_RIGHT), x1=px_x(X_RIGHT), y0=y0, y1=y1,
                       line=dict(color="#808080", width=2)))

    lx, ly = LABEL_POS[k]
    annotations.append(dict(text=PANEL_NAMES[k], xref="paper", yref="paper",
                            x=px_x(lx), y=px_y(ly), xanchor="center", yanchor="middle",
                            showarrow=False, font=dict(family=FONT, size=25, color="black")))
    annotations.append(dict(text="Bromide (mg/l)", xref="paper", yref="paper",
                            x=px_x(TITLE_X[k]), y=px_y(TITLE_Y[k]), xanchor="center", yanchor="middle",
                            textangle=-90, showarrow=False,
                            font=dict(family=FONT, size=23, color="black")))

fig.update_layout(
    width=W, height=H, margin=dict(l=0, r=0, t=0, b=0, autoexpand=False),
    paper_bgcolor="white", plot_bgcolor="white",
    font=dict(family=FONT, color="black"),
    showlegend=True,
    legend=dict(orientation="h", x=0.51, xanchor="center", y=px_y(19), yanchor="middle",
                font=dict(family=FONT, size=23, color="black"),
                bgcolor="rgba(0,0,0,0)", itemwidth=55, tracegroupgap=0),
    shapes=shapes, annotations=annotations,
    **layout_axes,
)

fig.write_html("out.html")
